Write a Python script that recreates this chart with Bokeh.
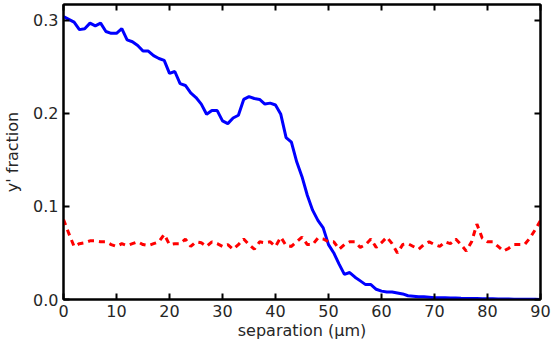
from bokeh.plotting import figure
from bokeh.models import LinearAxis, FixedTicker, Range1d, CustomJSTickFormatter
from bokeh.embed import file_html
from bokeh.resources import INLINE

separation = list(range(0, 91))

y_blue = [0.304, 0.301, 0.298, 0.290, 0.291, 0.297, 0.294, 0.297, 0.288, 0.286,
          0.286, 0.291, 0.279, 0.277, 0.273, 0.267, 0.267, 0.262, 0.259, 0.257,
          0.243, 0.245, 0.232, 0.230, 0.222, 0.217, 0.210, 0.199, 0.203, 0.203,
          0.192, 0.189, 0.195, 0.198, 0.215, 0.218, 0.216, 0.215, 0.210, 0.211,
          0.209, 0.199, 0.174, 0.169, 0.148, 0.132, 0.112, 0.096, 0.085, 0.077,
          0.059, 0.050, 0.038, 0.027, 0.029, 0.024, 0.020, 0.016, 0.016, 0.011,
          0.009, 0.008, 0.008, 0.007, 0.006, 0.004, 0.0035, 0.003, 0.003, 0.0025,
          0.002, 0.002, 0.0018, 0.0016, 0.0015, 0.0013, 0.0012, 0.001, 0.001, 0.0009,
          0.0008, 0.0007, 0.0006, 0.0005, 0.0005, 0.0004, 0.0003, 0.0003, 0.0002, 0.0002,
          0.0001]

y_red = [0.086, 0.071, 0.057, 0.060, 0.061, 0.063, 0.063, 0.062, 0.062, 0.059,
         0.057, 0.060, 0.058, 0.060, 0.062, 0.059, 0.058, 0.060, 0.062, 0.070,
         0.059, 0.060, 0.060, 0.065, 0.057, 0.062, 0.061, 0.057, 0.062, 0.060,
         0.057, 0.059, 0.054, 0.059, 0.065, 0.059, 0.054, 0.062, 0.061, 0.062,
         0.057, 0.067, 0.058, 0.057, 0.062, 0.067, 0.059, 0.059, 0.066, 0.065,
         0.062, 0.062, 0.054, 0.059, 0.062, 0.062, 0.056, 0.059, 0.065, 0.056,
         0.061, 0.067, 0.060, 0.050, 0.059, 0.060, 0.057, 0.054, 0.059, 0.062,
         0.059, 0.057, 0.062, 0.060, 0.065, 0.059, 0.052, 0.062, 0.081, 0.066,
         0.062, 0.062, 0.057, 0.052, 0.055, 0.059, 0.059, 0.059, 0.066, 0.075,
         0.085]

x_ticks = [0, 10, 20, 30, 40, 50, 60, 70, 80, 90]
y_ticks = [0.0, 0.1, 0.2, 0.3]

FONT = "DejaVu Sans"
TXT = "#262626"

p = figure(width=552, height=351, output_backend="svg", toolbar_location=None,
           x_range=Range1d(0, 90), y_range=Range1d(0, 0.317),
           min_border_left=10, min_border_right=12, min_border_top=4, min_border_bottom=52)
p.background_fill_color = "white"
p.border_fill_color = "white"
p.xgrid.visible = False
p.ygrid.visible = False
p.outline_line_color = "black"
p.outline_line_width = 2

p.line(separation, y_blue, line_color="#0000ff", line_width=3)
p.line(separation, y_red, line_color="#ff0000", line_width=3, line_dash="6 5")

def style(ax, labels=True):
    ax.major_tick_in = 6
    ax.major_tick_out = 0
    ax.minor_tick_line_color = None
    ax.major_tick_line_color = "black"
    ax.major_tick_line_width = 2
    ax.axis_line_color = "black"
    ax.axis_line_width = 2
    ax.major_label_text_font = FONT
    ax.major_label_text_color = TXT
    ax.axis_label_text_font = FONT
    ax.axis_label_text_color = TXT
    ax.axis_label_text_font_style = "normal"
    if labels:
        ax.major_label_text_font_size = "16px"
        ax.axis_label_text_font_size = "16px"
        ax.major_label_standoff = 5
    else:
        ax.major_label_text_font_size = "0px"
        ax.major_label_standoff = 0
        ax.major_label_text_color = None

p.xaxis.ticker = FixedTicker(ticks=x_ticks)
p.yaxis.ticker = FixedTicker(ticks=y_ticks)
p.yaxis.formatter = CustomJSTickFormatter(code="return tick.toFixed(1);")
p.xaxis.axis_label = "separation (μm)"
p.yaxis.axis_label = "y' fraction"
p.xaxis.axis_label_standoff = 1
p.yaxis.axis_label_standoff = 8
style(p.xaxis[0])
style(p.yaxis[0])

top = LinearAxis(ticker=FixedTicker(ticks=x_ticks))
right = LinearAxis(ticker=FixedTicker(ticks=y_ticks))
style(top, labels=False)
style(right, labels=False)
p.add_layout(top, "above")
p.add_layout(right, "right")

open("out.html", "w").write(file_html(p, INLINE))
